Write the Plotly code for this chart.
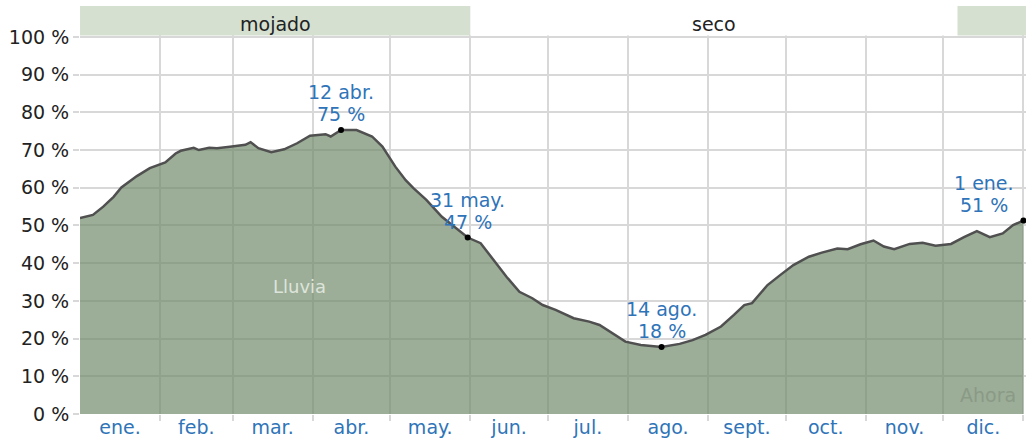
import plotly.graph_objects as go

# ---- data (day of year, 0 = 1 Jan) ----
days = [0, 5, 9, 13, 16, 20, 22, 27, 33, 37, 39, 44, 46, 50, 53, 58, 64, 66, 69, 74,
        79, 84, 89, 95, 97, 101, 107, 113, 117, 122, 126, 129, 134, 140, 147, 150,
        155, 161, 165, 170, 175, 179, 184, 191, 197, 201, 206, 211, 217, 222, 225,
        232, 237, 242, 248, 253, 257, 260, 266, 271, 276, 282, 287, 293, 297, 302,
        307, 311, 315, 321, 326, 331, 337, 342, 347, 352, 357, 361, 365]
rain_pct = [52.0, 52.8, 55.0, 57.6, 60.1, 62.2, 63.1, 65.2, 66.7, 69.1, 69.8, 70.6, 70.0,
            70.6, 70.5, 70.9, 71.4, 72.1, 70.5, 69.4, 70.2, 71.8, 73.8, 74.2, 73.6, 75.3,
            75.3, 73.6, 70.9, 65.6, 62.0, 59.9, 56.8, 52.3, 48.4, 46.8, 45.3, 40.0, 36.4,
            32.4, 30.7, 28.9, 27.6, 25.4, 24.5, 23.6, 21.4, 19.2, 18.3, 18.0, 17.8, 18.6,
            19.6, 21.0, 23.2, 26.3, 28.9, 29.4, 34.2, 36.9, 39.5, 41.7, 42.8, 43.9, 43.7,
            45.0, 46.0, 44.4, 43.7, 45.1, 45.4, 44.6, 45.1, 46.9, 48.5, 46.9, 47.9, 50.1, 51.3]

month_labels = ["ene.", "feb.", "mar.", "abr.", "may.", "jun.", "jul.", "ago.",
                "sept.", "oct.", "nov.", "dic."]
month_starts = [0, 31, 59, 90, 120, 151, 181, 212, 243, 273, 304, 334, 365]

y_ticks = [0, 10, 20, 30, 40, 50, 60, 70, 80, 90, 100]
y_ticktext = [f"{v} %" for v in y_ticks]

mark_days = [101, 150, 225, 365]
mark_labels = ["12 abr.", "31 may.", "14 ago.", "1 ene."]

seasons = [("mojado", 0, 151), ("seco", 151, 339.5), ("", 339.5, 366)]

# ---- styles ----
FILL = "rgba(114,139,108,0.70)"
LINE = "#505050"
GRID = "#d8d8d8"
BLUE = "#2f74b8"
FONT = "DejaVu Sans"

fig = go.Figure()
fig.add_trace(go.Scatter(x=days, y=rain_pct, mode="lines", fill="tozeroy",
                         fillcolor=FILL, line=dict(color=LINE, width=2.5),
                         hoverinfo="skip"))

mark_vals = [rain_pct[days.index(d)] for d in mark_days]
fig.add_trace(go.Scatter(x=mark_days, y=mark_vals, mode="markers",
                         marker=dict(color="black", size=6), hoverinfo="skip",
                         cliponaxis=False))

# annotations for marked points (two lines, tighter spacing)
for d, v, lab in zip(mark_days, mark_vals, mark_labels):
    xs = -39 if d >= 360 else 0
    for txt, ys in ((f"{round(v)} %", 3), (lab, 25)):
        fig.add_annotation(x=d, y=v, text=txt, showarrow=False,
                           xanchor="center", yanchor="bottom", xshift=xs, yshift=ys,
                           font=dict(family=FONT, size=19, color=BLUE))

# season band
month_mid = [(a + b) / 2 for a, b in zip(month_starts[:-1], month_starts[1:])]
for name, a, b in seasons:
    wet = name != "seco"
    fig.add_shape(type="rect", x0=a, x1=b, y0=100.4, y1=108.5, xref="x", yref="y",
                  fillcolor="#d5e0d1" if wet else "white", line=dict(width=0),
                  layer="above")
    if name:
        fig.add_annotation(x=(a + b) / 2, y=103.4, text=name, showarrow=False,
                           font=dict(family=FONT, size=19, color="#222"))

fig.add_annotation(x=85, y=33.7, text="Lluvia", showarrow=False,
                   font=dict(family=FONT, size=18, color="#dde4da"))
fig.add_annotation(x=363, y=1.5, text="Ahora", showarrow=False, xanchor="right",
                   yanchor="bottom", font=dict(family=FONT, size=19, color="#8a9a86"))

fig.update_layout(
    width=1026, height=439,
    margin=dict(l=80, r=0, t=6, b=25),
    plot_bgcolor="white", paper_bgcolor="white",
    showlegend=False,
    font=dict(family=FONT, size=19, color="#222"),
    xaxis=dict(range=[0, 366], tickmode="array", tickvals=month_mid,
               ticktext=month_labels, ticks="", showgrid=False, zeroline=False,
               showline=False, tickfont=dict(color=BLUE, size=19),
               minor=dict(tickmode="array", tickvals=month_starts[1:], showgrid=True,
                          gridcolor=GRID, gridwidth=2, ticks="outside", ticklen=6,
                          tickcolor=GRID, tickwidth=2),
               fixedrange=True),
    yaxis=dict(range=[0, 108.2], tickmode="array", tickvals=y_ticks,
               ticktext=y_ticktext, showgrid=True, gridcolor=GRID, gridwidth=2,
               zeroline=False, ticks="outside", ticklen=6, tickcolor=GRID,
               tickwidth=2, tickfont=dict(color="#222", size=19), fixedrange=True),
)

fig.write_html("out.html", config={"displayModeBar": False},
               post_script="document.body.style.margin='0';document.body.style.overflow='hidden';")
